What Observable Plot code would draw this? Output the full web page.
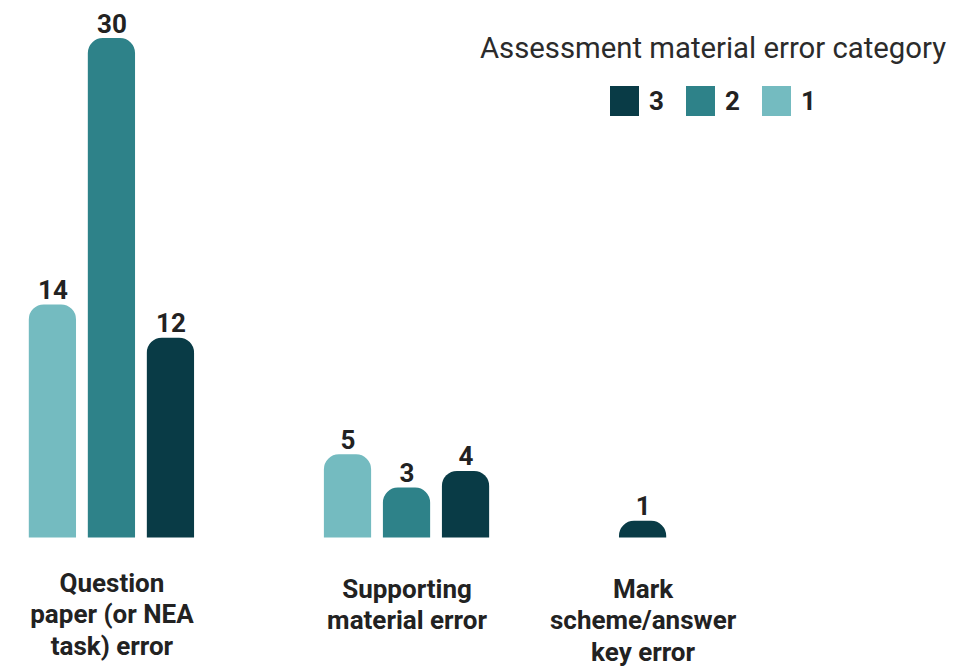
<!DOCTYPE html>
<html>
<head>
<meta charset="utf-8">
<script src="https://cdn.jsdelivr.net/npm/d3@7"></script>
<script src="https://cdn.jsdelivr.net/npm/@observablehq/plot@0.6"></script>
<style>
  html, body { margin: 0; padding: 0; background: #fff; }
  #wrap { position: relative; width: 967px; height: 666px; font-family: Roboto, "Noto Sans", sans-serif; }
  #legend { position: absolute; left: 468px; top: 31px; width: 490px; text-align: center; color: #2b2b2b; }
  #legend .title { font-size: 29.3px; font-weight: 400; line-height: 34px; white-space: nowrap; }
  #legend .items { margin-top: 21px; display: flex; justify-content: center; align-items: center; }
  #legend .item { display: flex; align-items: center; margin: 0 11px; }
  #legend .sw { width: 29px; height: 30px; margin-right: 10px; }
  #legend .lab { font-size: 26px; font-weight: 700; color: #222; }
</style>
</head>
<body>
<div id="wrap"></div>
<script>
// ---- data ----
const groups = ["Question paper (or NEA task) error", "Supporting material error", "Mark scheme/answer key error"];
const groupLabels = ["Question\npaper (or NEA\ntask) error", "Supporting\nmaterial error", "Mark\nscheme/answer\nkey error"];
const categories = ["1", "2", "3"];
const legendOrder = ["3", "2", "1"];
const colors = ["#74bbc0", "#2e8289", "#093b46"];
const questionPaperValues = [14, 30, 12];
const supportingMaterialValues = [5, 3, 4];
const markSchemeValues = [null, null, 1];
const legendTitle = "Assessment material error category";

// ---- build table ----
const seriesByGroup = [questionPaperValues, supportingMaterialValues, markSchemeValues];
const rows = [];
const xDomain = [];
const groupCenterKey = [];
groups.forEach((g, gi) => {
  const vals = seriesByGroup[gi];
  const present = categories.filter((c, ci) => vals[ci] != null);
  if (gi > 0) { xDomain.push(`gap${gi}a`, `gap${gi}b`); }
  present.forEach((c) => {
    const key = present.length === 1 ? g : `${g}|${c}`;
    xDomain.push(key);
    rows.push({group: g, category: c, value: vals[categories.indexOf(c)], key});
  });
  groupCenterKey.push(present.length === 1 ? g : `${g}|${present[Math.floor(present.length / 2)]}`);
});
const labelRows = groups.map((g, i) => ({group: g, label: groupLabels[i], key: groupCenterKey[i], first: i === 0}));

const labelStyle = {x: "key", y: () => 0, text: "label", lineAnchor: "top",
  fontSize: 26, fontWeight: 700, fill: "#222", lineHeight: 1.22};

const plot = Plot.plot({
  width: 967,
  height: 666,
  marginTop: 38,
  marginBottom: 128.5,
  marginLeft: 17,
  marginRight: 289,
  style: {fontFamily: "Roboto, 'Noto Sans', sans-serif", background: "#fff", overflow: "visible"},
  x: {domain: xDomain, padding: 0.2, round: false, axis: null},
  y: {domain: [0, 30], nice: false, axis: null},
  color: {domain: categories, range: colors},
  marks: [
    Plot.barY(rows, {x: "key", y: "value", fill: "category", ry1: 15}),
    Plot.text(rows, {x: "key", y: "value", text: d => String(d.value), dy: -6, lineAnchor: "bottom",
      fontSize: 26, fontWeight: 700, fill: "#222"}),
    Plot.text(labelRows.filter(d => d.first), {...labelStyle, dy: 31}),
    Plot.text(labelRows.filter(d => !d.first), {...labelStyle, dy: 37})
  ]
});

const wrap = document.getElementById("wrap");
wrap.appendChild(plot);

// ---- legend ----
const color = plot.scale("color");
const legend = document.createElement("div");
legend.id = "legend";
const title = document.createElement("div");
title.className = "title";
title.textContent = legendTitle;
legend.appendChild(title);
const items = document.createElement("div");
items.className = "items";
legendOrder.forEach(c => {
  const it = document.createElement("div");
  it.className = "item";
  const sw = document.createElement("div");
  sw.className = "sw";
  sw.style.background = color.apply(c);
  const lab = document.createElement("span");
  lab.className = "lab";
  lab.textContent = c;
  it.appendChild(sw); it.appendChild(lab);
  items.appendChild(it);
});
legend.appendChild(items);
wrap.appendChild(legend);
</script>
</body>
</html>
